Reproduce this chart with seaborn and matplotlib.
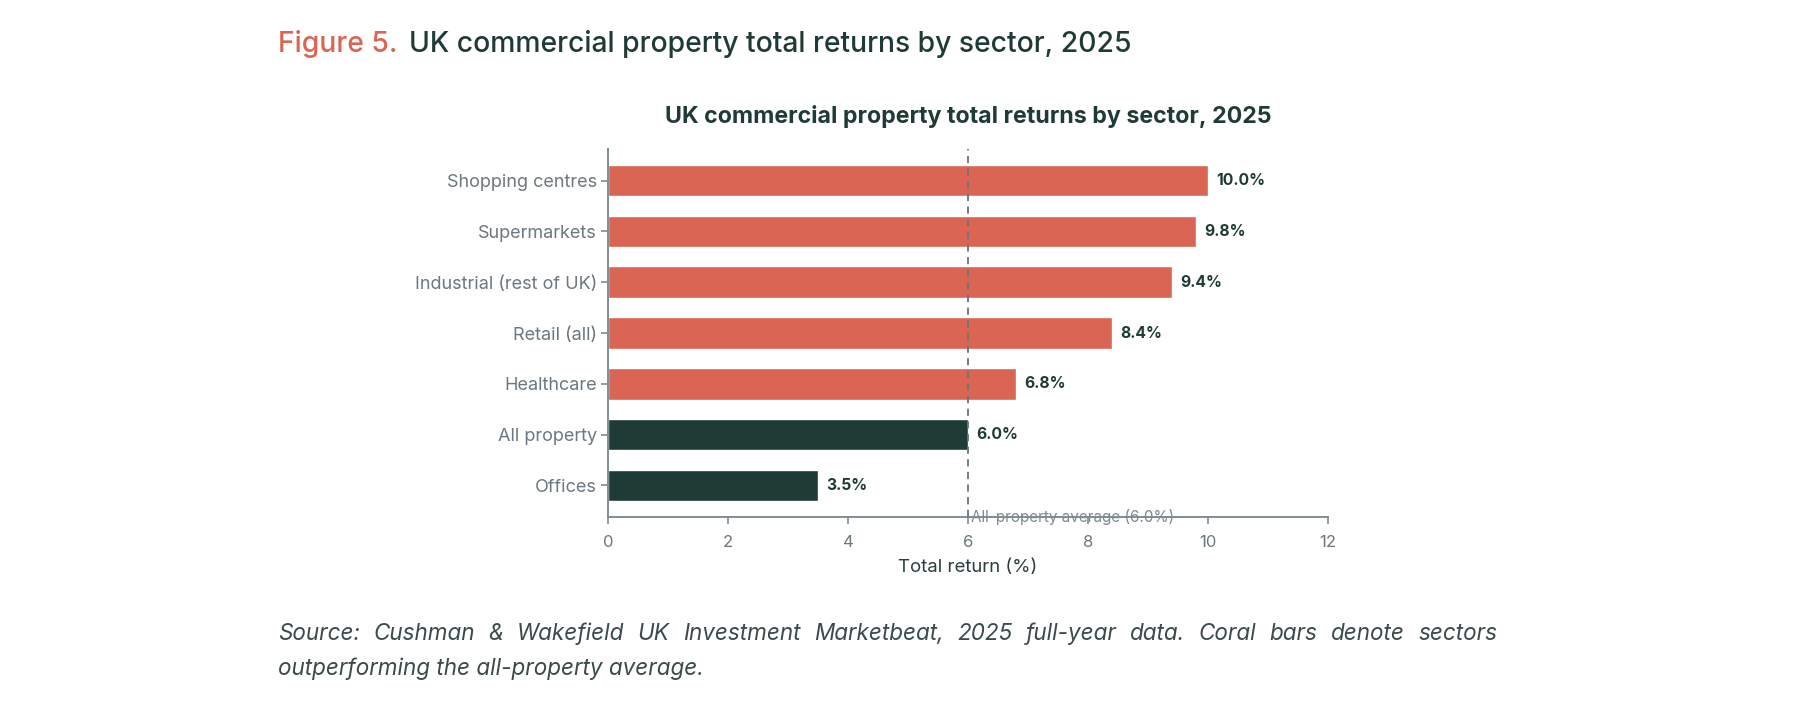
import matplotlib
matplotlib.use("Agg")
import matplotlib.pyplot as plt
import seaborn as sns
import pandas as pd

# ---------------- data ----------------
sectors = ["Shopping centres", "Supermarkets", "Industrial (rest of UK)",
           "Retail (all)", "Healthcare", "All property", "Offices"]
returns = [10.0, 9.8, 9.4, 8.4, 6.8, 6.0, 3.5]
groups = ["Outperform"] * 5 + ["Average or below"] * 2
average = 6.0
xticks = [0, 2, 4, 6, 8, 10, 12]
value_labels = ["10.0%", "9.8%", "9.4%", "8.4%", "6.8%", "6.0%", "3.5%"]

fig_label = "Figure 5."
fig_title = "UK commercial property total returns by sector, 2025"
chart_title = "UK commercial property total returns by sector, 2025"
xlabel = "Total return (%)"
avg_label = "All-property average (6.0%)"
caption_lines = [
    "Source: Cushman & Wakefield UK Investment Marketbeat, 2025 full-year data. Coral bars denote sectors",
    "outperforming the all-property average.",
]

# ---------------- style ----------------
CORAL = "#d96552"
DARK = "#1f3b36"
GRAY = "#7f8c93"
TICKGRAY = "#6b7880"
TEXTDARK = "#2c3d3d"

sns.set_theme(style="white")
FONT = ["Inter", "DejaVu Sans"]
plt.rcParams["font.family"] = FONT

W, H = 1800, 708
fig = plt.figure(figsize=(W / 100, H / 100), dpi=100)
fig.patch.set_facecolor("white")


def fx(px):
    return px / W


def fy(py):
    return 1 - py / H


ax = fig.add_axes([fx(608), fy(517), fx(1328) - fx(608), fy(149) - fy(517)])

df = pd.DataFrame({"sector": sectors, "ret": returns, "group": groups})
sns.barplot(data=df, x="ret", y="sector", hue="group",
            palette={"Outperform": CORAL, "Average or below": DARK},
            dodge=False, width=0.62, saturation=1, legend=False, ax=ax)

ax.set_xlim(0, 12)
ax.set_ylim(6.62, -0.62)
ax.set_xticks(xticks)
ax.set_xticklabels([str(t) for t in xticks])
ax.set_xlabel("")
ax.set_ylabel("")

for s in ["top", "right"]:
    ax.spines[s].set_visible(False)
for s in ["left", "bottom"]:
    ax.spines[s].set_color(GRAY)
    ax.spines[s].set_linewidth(1.4)

ax.tick_params(axis="y", length=5, width=1.2, color=GRAY, labelcolor=TICKGRAY,
               labelsize=13, pad=3, left=True)
ax.tick_params(axis="x", length=5, width=1.2, color=GRAY, labelcolor=TICKGRAY,
               labelsize=12, pad=8, bottom=True)

# average line
ax.axvline(average, color="#66757c", ls=(0, (4, 3)), lw=1.3, zorder=3)
ax.annotate(avg_label, xy=(average, 6.62), xytext=(2, 0), textcoords="offset points",
            ha="left", va="center", fontsize=11, color="#7d8a90", zorder=4)

# value labels
for i, (v, lab) in enumerate(zip(returns, value_labels)):
    ax.annotate(lab, xy=(v, i), xytext=(6, 0), textcoords="offset points",
                ha="left", va="center", fontsize=11.3, fontweight="bold",
                color=DARK)

# chart title & x label (figure-level, centred on axes)
fig.text(fx(968), fy(116), chart_title, ha="center", va="center",
         fontsize=16.7, fontweight="bold", color=DARK)
fig.text(fx(968), fy(568), xlabel, ha="center", va="center",
         fontsize=13.4, color=TEXTDARK)

# figure heading
fig.text(fx(278), fy(44), fig_label, ha="left", va="center",
         fontsize=20.4, color=CORAL, fontweight="medium")
fig.text(fx(409), fy(44), fig_title, ha="left", va="center",
         fontsize=20.4, color=DARK, fontweight="medium")

# justified caption
renderer = fig.canvas.get_renderer()
cap_kw = dict(fontsize=16.2, style="italic", color="#3b4a4a", ha="left", va="center")
cap_x0, cap_x1 = 278, 1497
cap_y = [634, 669]
for li, line in enumerate(caption_lines):
    words = line.split(" ")
    if li == len(caption_lines) - 1:
        fig.text(fx(cap_x0), fy(cap_y[li]), line, **cap_kw)
        continue
    texts = [fig.text(0, 0, w, **cap_kw) for w in words]
    widths = [t.get_window_extent(renderer).width for t in texts]
    gap = (cap_x1 - cap_x0 - sum(widths)) / (len(words) - 1)
    x = cap_x0
    for t, wd in zip(texts, widths):
        t.set_position((fx(x), fy(cap_y[li])))
        x += wd + gap

fig.savefig("out.png", dpi=100, facecolor="white")
